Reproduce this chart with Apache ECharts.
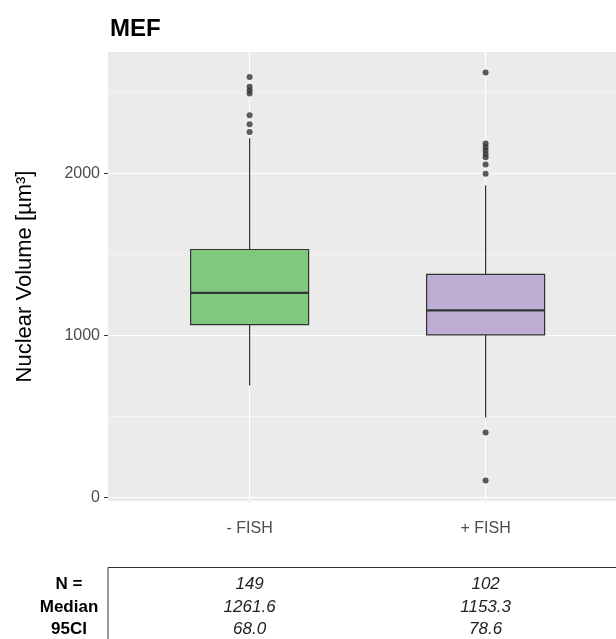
<!DOCTYPE html>
<html>
<head>
<meta charset="utf-8">
<script src="https://cdn.jsdelivr.net/npm/echarts@6/dist/echarts.min.js"></script>
<style>
html, body { margin: 0; padding: 0; background: #fff; }
#chart { width: 616px; height: 639px; }
</style>
</head>
<body>
<div id="chart"></div>
<script>
// ---- data ----
const categories = ['- FISH', '+ FISH'];
const categoryPositions = [1, 2];
// [min, Q1, median, Q3, max] (whisker ends)
const boxMinus = [690, 1066, 1262, 1529, 2216];
const boxPlus = [492, 1002, 1153, 1375, 1926];
const outliersMinus = [2594, 2533, 2512, 2492, 2358, 2302, 2255];
const outliersPlus = [2622, 2183, 2161, 2140, 2119, 2098, 2054, 1996, 399, 103];
const yTicks = [0, 1000, 2000];
const yMinorTicks = [500, 1500, 2500];
const boxColors = ['#7fc97f', '#beaed4'];
const tableRowLabels = ['N =', 'Median', '95CI'];
const nValues = ['149', '102'];
const medianValues = ['1261.6', '1153.3'];
const ciValues = ['68.0', '78.6'];

const FONT = '"Liberation Sans", Arial, sans-serif';

const chart = echarts.init(document.getElementById('chart'), null, { renderer: 'canvas' });

const boxData = [
  [categoryPositions[0]].concat(boxMinus),
  [categoryPositions[1]].concat(boxPlus)
];
const outlierData = [];
outliersMinus.forEach(v => outlierData.push([categoryPositions[0], v]));
outliersPlus.forEach(v => outlierData.push([categoryPositions[1], v]));

const gridLines = [];
yTicks.forEach(v => gridLines.push({ yAxis: v, lineStyle: { color: '#ffffff', width: 1.2 } }));
yMinorTicks.forEach(v => gridLines.push({ yAxis: v, lineStyle: { color: '#f6f6f6', width: 0.8 } }));
categoryPositions.forEach(v => gridLines.push({ xAxis: v, lineStyle: { color: '#ffffff', width: 1.2 } }));

function renderBox(params, api) {
  const x = api.value(0);
  const lo = api.coord([x, api.value(1)]);
  const q1 = api.coord([x, api.value(2)]);
  const md = api.coord([x, api.value(3)]);
  const q3 = api.coord([x, api.value(4)]);
  const hi = api.coord([x, api.value(5)]);
  const w = api.size([0.5, 0])[0];
  const cx = lo[0];
  const color = boxColors[params.dataIndex % boxColors.length];
  const stroke = '#333333';
  return {
    type: 'group',
    children: [
      { type: 'line', shape: { x1: cx, y1: hi[1], x2: cx, y2: q3[1] }, style: { stroke: stroke, lineWidth: 1.2 } },
      { type: 'line', shape: { x1: cx, y1: q1[1], x2: cx, y2: lo[1] }, style: { stroke: stroke, lineWidth: 1.2 } },
      { type: 'rect', shape: { x: cx - w / 2, y: q3[1], width: w, height: q1[1] - q3[1] }, style: { fill: color, stroke: stroke, lineWidth: 1.2 } },
      { type: 'line', shape: { x1: cx - w / 2, y1: md[1], x2: cx + w / 2, y2: md[1] }, style: { stroke: stroke, lineWidth: 2.2 } }
    ]
  };
}

const option = {
  animation: false,
  backgroundColor: '#ffffff',
  textStyle: { fontFamily: FONT },
  grid: {
    left: 108, right: 0, top: 52, bottom: 138,
    show: true, backgroundColor: '#ebebeb', borderWidth: 0
  },
  xAxis: {
    type: 'value',
    min: 0.4,
    max: 2.5525,
    axisLine: { show: false },
    splitLine: { show: false },
    axisTick: { show: true, customValues: categoryPositions, length: 4, lineStyle: { color: '#333333', width: 1 } },
    axisLabel: {
      show: true,
      customValues: categoryPositions,
      formatter: v => categories[categoryPositions.indexOf(Math.round(v))] || '',
      margin: 20,
      fontSize: 16,
      color: '#4d4d4d',
      fontFamily: FONT
    }
  },
  yAxis: {
    type: 'value',
    min: -23,
    max: 2748,
    name: 'Nuclear Volume [µm³]',
    nameLocation: 'middle',
    nameGap: 72,
    nameTextStyle: { fontSize: 22, color: '#000000', fontFamily: FONT },
    axisLine: { show: false },
    splitLine: { show: false },
    axisTick: { show: true, customValues: yTicks, length: 4, lineStyle: { color: '#333333', width: 1 } },
    axisLabel: {
      show: true,
      customValues: yTicks,
      formatter: v => String(Math.round(v)),
      margin: 8,
      fontSize: 16,
      color: '#4d4d4d',
      fontFamily: FONT
    }
  },
  series: [
    {
      type: 'scatter',
      data: [],
      z: 1,
      silent: true,
      markLine: {
        silent: true,
        z: 1,
        symbol: ['none', 'none'],
        label: { show: false },
        animation: false,
        lineStyle: { type: 'solid' },
        data: gridLines
      }
    },
    {
      type: 'custom',
      z: 3,
      silent: true,
      renderItem: renderBox,
      encode: { x: 0, y: [1, 2, 3, 4, 5] },
      data: boxData
    },
    {
      type: 'scatter',
      z: 4,
      silent: true,
      symbol: 'circle',
      symbolSize: 6,
      itemStyle: { color: '#333333' },
      data: outlierData
    }
  ]
};

chart.setOption(option);

// table and title graphics, positioned from the axis scale
const colX = categoryPositions.map(v => chart.convertToPixel({ xAxisIndex: 0 }, v));
const panelLeft = chart.convertToPixel({ xAxisIndex: 0 }, 0.4);
const rowY = [584, 607, 629];
const graphics = [
  { type: 'text', x: panelLeft + 2, y: 29, style: { text: 'MEF', font: 'bold 24px ' + FONT, fill: '#000', textAlign: 'left', textVerticalAlign: 'middle' } },
  { type: 'line', shape: { x1: panelLeft, y1: 567.5, x2: 616, y2: 567.5 }, style: { stroke: '#333', lineWidth: 1 } },
  { type: 'line', shape: { x1: panelLeft, y1: 567.5, x2: panelLeft, y2: 639 }, style: { stroke: '#333', lineWidth: 1 } }
];
tableRowLabels.forEach((t, i) => {
  graphics.push({ type: 'text', x: 69, y: rowY[i], style: { text: t, font: 'bold 17px ' + FONT, fill: '#000', textAlign: 'center', textVerticalAlign: 'middle' } });
});
[nValues, medianValues, ciValues].forEach((row, i) => {
  row.forEach((t, j) => {
    graphics.push({ type: 'text', x: colX[j], y: rowY[i], style: { text: t, font: 'italic 17px ' + FONT, fill: '#222', textAlign: 'center', textVerticalAlign: 'middle' } });
  });
});
chart.setOption({ graphic: graphics });
</script>
</body>
</html>
